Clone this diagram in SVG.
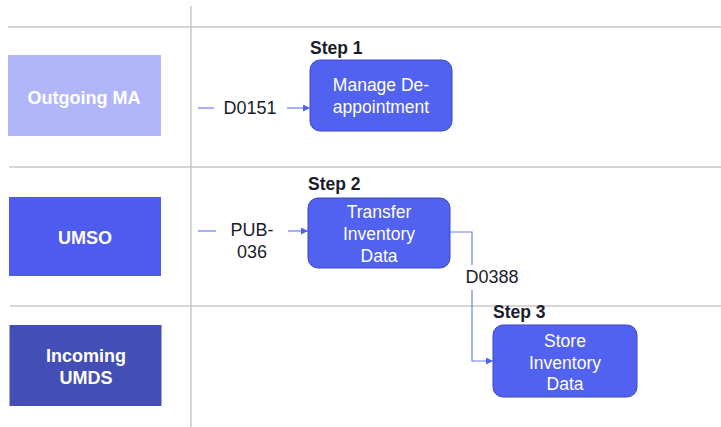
<svg xmlns="http://www.w3.org/2000/svg" width="721" height="427" viewBox="0 0 721 427">
<defs>
<style>
.grid{stroke:#c8c8c8;stroke-width:1.5;fill:none}
.lane{font-family:"Liberation Sans",Arial,sans-serif;font-size:18px;font-weight:bold;fill:#fff;text-anchor:middle}
.box{fill:#5161f0;stroke:#3d49c4;stroke-width:1}
.bt{font-family:"Liberation Sans",Arial,sans-serif;font-size:17.5px;fill:#fff;text-anchor:middle}
.step{font-family:"Liberation Sans",Arial,sans-serif;font-size:17.5px;font-weight:bold;fill:#1a1d2b}
.lbl{font-family:"Liberation Sans",Arial,sans-serif;font-size:18px;fill:#1a1d2b;text-anchor:middle}
.conn{stroke:#6f7bf2;stroke-width:1.2;fill:none}
</style>
<marker id="arr" viewBox="0 0 10 10" refX="10" refY="5" markerWidth="7" markerHeight="7" markerUnits="userSpaceOnUse" orient="auto">
<path d="M0,0 L10,5 L0,10 z" fill="#5161f0"/>
</marker>
</defs>
<rect width="721" height="427" fill="#fff"/>
<g id="grid">
<line class="grid" x1="8" y1="27" x2="721" y2="27"/>
<line class="grid" x1="9" y1="167" x2="721" y2="167"/>
<line class="grid" x1="10" y1="306" x2="721" y2="306"/>
<line class="grid" x1="191" y1="6" x2="191" y2="427"/>
</g>
<g id="lane-outgoing">
<rect x="8" y="55" width="153" height="81" fill="#b1b6f8"/>
<text class="lane" x="84" y="104">Outgoing MA</text>
</g>
<g id="lane-umso">
<rect x="9" y="197" width="152" height="79" fill="#4f5bef"/>
<text class="lane" x="85" y="244">UMSO</text>
</g>
<g id="lane-incoming">
<rect x="9.5" y="325" width="152" height="81" fill="#434eb6"/>
<text class="lane" x="86" y="362">Incoming</text>
<text class="lane" x="86" y="384">UMDS</text>
</g>
<g id="step1">
<text class="step" x="310" y="54">Step 1</text>
<rect class="box" x="310" y="60" width="142" height="71" rx="10"/>
<text class="bt" x="381" y="91">Manage De-</text>
<text class="bt" x="381" y="113">appointment</text>
</g>
<g id="step2">
<text class="step" x="308" y="190">Step 2</text>
<rect class="box" x="308" y="198" width="142" height="70" rx="10"/>
<text class="bt" x="379" y="218">Transfer</text>
<text class="bt" x="379" y="240">Inventory</text>
<text class="bt" x="379" y="262">Data</text>
</g>
<g id="step3">
<text class="step" x="493" y="318">Step 3</text>
<rect class="box" x="493" y="325" width="144" height="72" rx="10"/>
<text class="bt" x="565" y="347">Store</text>
<text class="bt" x="565" y="369">Inventory</text>
<text class="bt" x="565" y="390">Data</text>
</g>
<g id="connectors">
<line class="conn" x1="198" y1="108" x2="214" y2="108"/>
<line class="conn" x1="287" y1="108" x2="310" y2="108" marker-end="url(#arr)"/>
<text class="lbl" x="250" y="114">D0151</text>
<line class="conn" x1="198" y1="231" x2="216" y2="231"/>
<line class="conn" x1="288" y1="231" x2="308" y2="231" marker-end="url(#arr)"/>
<text class="lbl" x="252" y="236">PUB-</text>
<text class="lbl" x="252" y="258">036</text>
<polyline class="conn" points="450,232 472,232 472,265"/>
<polyline class="conn" points="472,290 472,361 493,361" marker-end="url(#arr)"/>
<text class="lbl" x="492" y="283">D0388</text>
</g>
</svg>
